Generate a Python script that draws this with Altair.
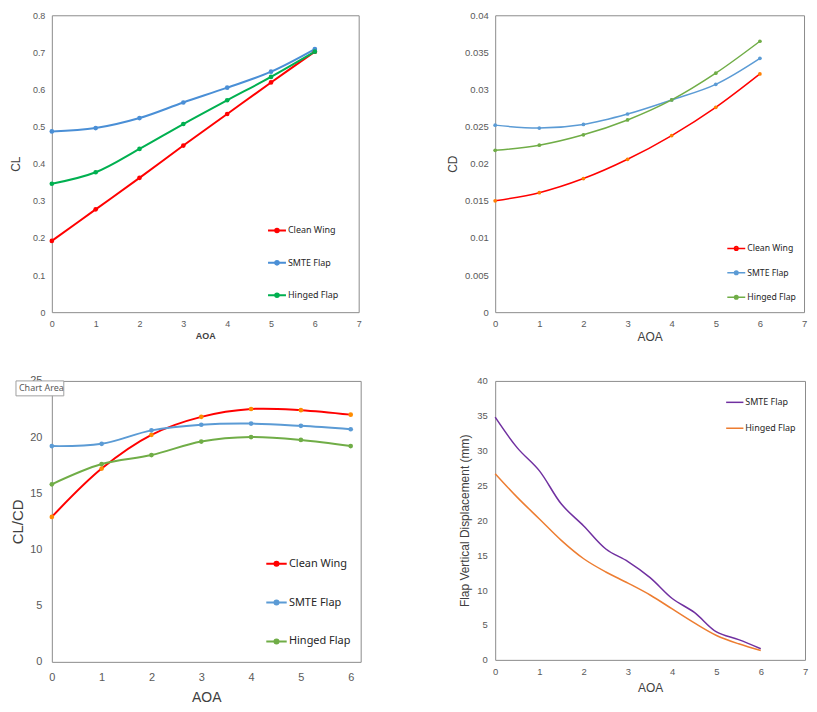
import altair as alt
import pandas as pd

# ---------------- data ----------------
aoa = [0, 1, 2, 3, 4, 5, 6]
series = ["Clean Wing", "SMTE Flap", "Hinged Flap"]

cl_clean = [0.192, 0.277, 0.362, 0.449, 0.534, 0.619, 0.702]
cl_smte = [0.487, 0.496, 0.523, 0.565, 0.605, 0.648, 0.709]
cl_hinged = [0.346, 0.377, 0.440, 0.507, 0.571, 0.634, 0.702]

cd_clean = [0.0150, 0.0161, 0.0180, 0.0206, 0.0238, 0.0276, 0.0321]
cd_smte = [0.0252, 0.0248, 0.0253, 0.0267, 0.0286, 0.0307, 0.0342]
cd_hinged = [0.0218, 0.0225, 0.0239, 0.0259, 0.0286, 0.0322, 0.0365]

ld_clean = [12.9, 17.2, 20.2, 21.8, 22.5, 22.4, 22.0]
ld_smte = [19.2, 19.4, 20.6, 21.1, 21.2, 21.0, 20.7]
ld_hinged = [15.8, 17.6, 18.4, 19.6, 20.0, 19.75, 19.2]

disp_aoa = [0, 0.5, 1, 1.5, 2, 2.5, 3, 3.5, 4, 4.5, 5, 5.5, 6]
disp_series = ["SMTE Flap", "Hinged Flap"]
disp_smte = [34.8, 30.4, 27.1, 22.3, 19.2, 15.9, 14.1, 11.8, 8.8, 6.8, 4.0, 2.9, 1.6]
disp_hinged = [26.7, 23.3, 20.2, 17.1, 14.5, 12.6, 11.0, 9.3, 7.3, 5.3, 3.5, 2.3, 1.35]

tooltip_text = ["Chart Area"]

# ---------------- styling ----------------
FONT = "Liberation Sans"
LEG_FONT = "Noto Sans"
LABEL_COL = "#595959"
TITLE_COL = "#404040"
DOT_PATH = "M-1,0H1M0.2,0A0.2,0.2,0,1,1,-0.2,0A0.2,0.2,0,1,1,0.2,0Z"


def long(x, names, cols):
    rows = []
    for n, c in zip(names, cols):
        for xi, yi in zip(x, c):
            rows.append({"AOA": xi, "Series": n, "Value": yi})
    return pd.DataFrame(rows)


def build(df, names, line_cols, pt_cols, xdom, xvals, ydom, yvals, yfmt, ytitle,
          label_size, lpad_x, lpad_y, xt_size, xt_weight, xt_pad,
          yt_size, yt_pad, leg_x, leg_y, leg_size, leg_rowpad, line_w, pt_size,
          symbol=DOT_PATH, sym_size=324):
    x = alt.X("AOA:Q", scale=alt.Scale(domain=xdom, nice=False, zero=False),
              axis=alt.Axis(values=xvals, title="AOA", grid=False, ticks=False,
                            domain=False, labelFont=FONT, labelFontSize=label_size,
                            labelColor=LABEL_COL, labelPadding=lpad_x, labelFlush=False,
                            titleFont=FONT, titleFontSize=xt_size,
                            titleFontWeight=xt_weight, titleColor=TITLE_COL,
                            titlePadding=xt_pad))
    y = alt.Y("Value:Q", scale=alt.Scale(domain=ydom, nice=False, zero=True),
              axis=alt.Axis(values=yvals, format=yfmt, title=ytitle, grid=False,
                            ticks=False, domain=False, labelFont=FONT,
                            labelFontSize=label_size, labelColor=LABEL_COL,
                            labelPadding=lpad_y, labelFlush=False, titleFont=FONT,
                            titleFontSize=yt_size, titleFontWeight="normal",
                            titleColor=TITLE_COL, titlePadding=yt_pad))
    base = alt.Chart(df)
    line = base.mark_line(interpolate="catmull-rom", strokeWidth=line_w).encode(
        x=x, y=y,
        color=alt.Color("Series:N", scale=alt.Scale(domain=names, range=line_cols),
                        legend=alt.Legend(title=None, orient="none", legendX=leg_x,
                                          legendY=leg_y, symbolType=symbol,
                                          symbolSize=sym_size, symbolStrokeWidth=line_w,
                                          labelFont=LEG_FONT, labelFontSize=leg_size,
                                          labelColor="#262626", rowPadding=leg_rowpad,
                                          padding=0, labelOffset=1)),
        detail="Series:N",
    )
    layers = [line]
    if pt_cols is not None:
        pts = base.mark_circle(size=pt_size, opacity=1).encode(
            x=x, y=y,
            fill=alt.Fill("Series:N", scale=alt.Scale(domain=names, range=pt_cols),
                          legend=None),
        )
        layers.append(pts)
    return layers


df_cl = long(aoa, series, [cl_clean, cl_smte, cl_hinged])
df_cd = long(aoa, series, [cd_clean, cd_smte, cd_hinged])
df_ld = long(aoa, series, [ld_clean, ld_smte, ld_hinged])
df_disp = long(disp_aoa, disp_series, [disp_smte, disp_hinged])

tl = alt.layer(*build(
    df_cl, series, ["#ff0000", "#4a8fd6", "#00b050"], ["#ff0000", "#4a8fd6", "#00b050"],
    [0, 7], list(range(8)), [0, 0.8], [i / 10 for i in range(9)], ".1~f", "CL",
    9, 7, 7, 9, "bold", 3, 12, 10, 216, 206, 9, 16.5, 2, 22,
)).properties(width=308, height=298)

tr = alt.layer(*build(
    df_cd, series, ["#ff0000", "#5b9bd5", "#70ad47"], ["#ff7f00", "#5b9bd5", "#70ad47"],
    [0, 7], list(range(8)), [0, 0.04], [i * 0.005 for i in range(9)], ".3~f", "CD",
    9.5, 6, 7, 12, "normal", 4, 12, 5, 232, 224, 8.7, 9.5, 1.5, 14,
)).properties(width=310, height=298)

ld_layers = build(
    df_ld, series, ["#ff0000", "#5b9bd5", "#70ad47"], ["#ff8c00", "#5b9bd5", "#70ad47"],
    [0, 6.2], list(range(7)), [0, 25], list(range(0, 26, 5)), "d", "CL/CD",
    11, 10, 10, 14, "normal", 8, 15, 4, 214, 172, 11, 21, 2, 22, sym_size=420,
)
tip = alt.Chart(pd.DataFrame({"t": tooltip_text}))
tip_box = tip.mark_rect(fill="white", stroke="#a0a0a0", strokeWidth=1).encode(
    x=alt.value(-36), x2=alt.value(12), y=alt.value(0), y2=alt.value(15))
tip_txt = tip.mark_text(align="left", baseline="middle", font="Noto Sans",
                        fontSize=9, color="#595959").encode(
    x=alt.value(-33), y=alt.value(7.5), text="t:N")
bl = alt.layer(*ld_layers, tip_box, tip_txt).properties(width=310, height=282)

br = alt.layer(*build(
    df_disp, disp_series, ["#7030a0", "#ed7d31"], None,
    [0, 7], list(range(8)), [0, 40], list(range(0, 41, 5)), "d",
    "Flap Vertical Displacement (mm)",
    9.5, 7, 8, 12, "normal", 6, 12, 5, 231, 12, 9, 11, 1.5, 0,
    symbol="stroke", sym_size=300,
)).properties(width=311, height=280)

chart = alt.concat(tl, tr, bl, br, columns=2,
                   spacing=alt.RowColnumber(row=69, column=135),
                   bounds="flush").resolve_scale(
    color="independent", fill="independent").configure(
    background="white", padding=0).configure_view(
    stroke="#8c8c8c", strokeWidth=1)

chart.save("out.html", embed_options={"renderer": "svg", "actions": False})
